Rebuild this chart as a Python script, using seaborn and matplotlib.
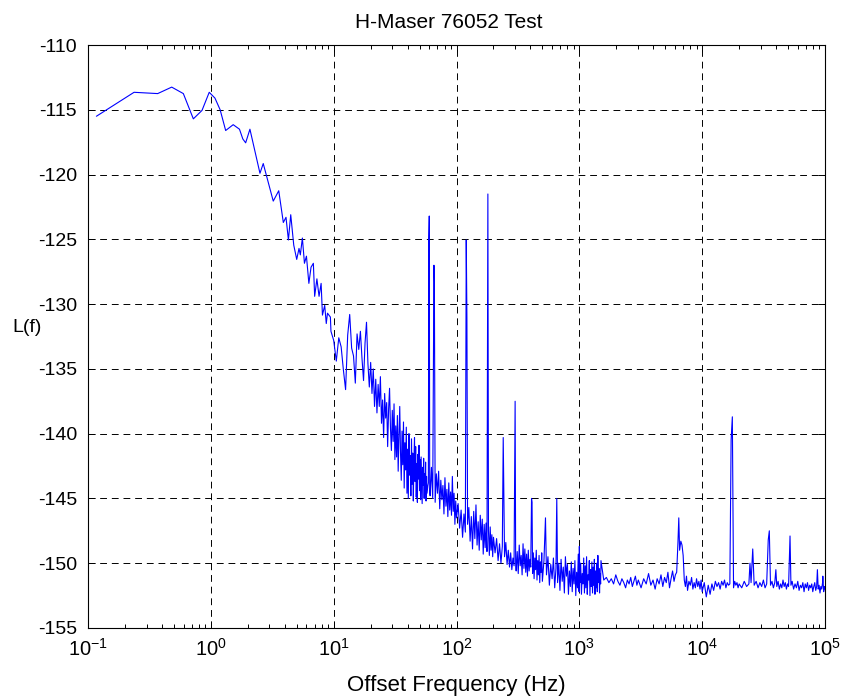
import numpy as np
import matplotlib
matplotlib.use('Agg')
import matplotlib.pyplot as plt
from matplotlib.ticker import NullFormatter, LogLocator
import seaborn as sns

# --------------
# data (offset frequency in Hz, L(f) in dBc/Hz)

# sparse low-frequency part, 0.1 - 10 Hz
freq_low = [0.117, 0.237, 0.369, 0.48, 0.597, 0.72, 0.847, 0.97, 1.08, 1.19,
            1.32, 1.52, 1.71, 1.82, 1.92, 2.08, 2.51, 2.67, 3.22, 3.57,
            3.89, 4.09, 4.28, 4.47, 4.73, 5.0, 5.22, 5.35, 5.56, 5.78,
            6.0, 6.28, 6.54, 6.83, 7.0, 7.3, 7.6, 7.9, 8.1, 8.45,
            8.7, 8.9, 9.4, 9.5]
lf_low = [-115.5, -113.65, -113.75, -113.25, -113.75, -115.7, -115.05, -113.65, -114.1, -115.0,
          -116.6, -116.15, -116.5, -117.25, -117.55, -116.5, -119.9, -119.15, -122.05, -121.25,
          -123.7, -123.3, -125.05, -123.1, -125.45, -126.55, -125.7, -126.2, -124.9, -126.85,
          -126.3, -128.4, -127.15, -126.85, -129.4, -128.05, -129.4, -128.4, -130.85, -130.1,
          -131.5, -130.7, -131.0, -132.1]

# 10 - 60 Hz, dense noisy band, 60 Hz line at the end
freq_b = [10.0, 10.5, 11.0, 11.5, 12.0, 12.5, 13.0, 13.5, 14.0, 14.5,
          15.0, 15.5, 16.0, 16.5, 17.0, 17.5, 18.0, 18.5, 19.0, 19.5,
          20.0, 20.5, 21.0, 21.5, 22.0, 22.5, 23.0, 23.5, 24.0, 24.5,
          25.0, 25.5, 26.0, 26.5, 27.0, 27.5, 28.0, 28.5, 29.0, 29.5,
          30.0, 30.5, 31.0, 31.5, 32.0, 32.5, 33.0, 33.5, 34.0, 34.5,
          35.0, 35.5, 36.0, 36.5, 37.0, 37.5, 38.0, 38.5, 39.0, 39.5,
          40.0, 40.5, 41.0, 41.5, 42.0, 42.5, 43.0, 43.5, 44.0, 44.5,
          45.0, 45.5, 46.0, 46.5, 47.0, 47.5, 48.0, 48.5, 49.0, 49.5,
          50.0, 50.5, 51.0, 51.5, 52.0, 52.5, 53.0, 53.5, 54.0, 54.5,
          55.0, 55.5, 56.0, 56.5, 57.0, 57.5, 58.5, 59.0, 59.5, 60.0,
          60.5]
lf_b = [-132.8, -134.4, -132.6, -133.3, -135.1, -136.6, -132.4, -130.8, -133.4, -134.0,
        -136.1, -132.3, -133.5, -132.1, -134.2, -135.9, -133.0, -131.4, -134.6, -136.4,
        -134.5, -136.9, -135.0, -137.9, -135.8, -138.4, -136.2, -137.9, -135.6, -139.2,
        -137.4, -140.3, -136.9, -138.8, -137.6, -141.0, -138.1, -136.5, -139.6, -141.3,
        -138.2, -140.6, -137.7, -142.0, -139.4, -141.8, -138.6, -142.9, -140.1, -137.9,
        -141.5, -143.6, -139.8, -142.4, -139.1, -144.2, -140.7, -142.8, -139.5, -144.6,
        -141.2, -145.0, -140.0, -143.2, -141.7, -144.8, -140.4, -143.9, -141.5, -145.2,
        -142.1, -140.3, -143.7, -141.0, -144.9, -142.3, -145.3, -141.6, -143.5, -140.9,
        -144.4, -142.0, -145.1, -141.8, -143.8, -145.4, -142.6, -144.0, -141.9, -145.0,
        -143.1, -144.7, -142.2, -145.2, -143.3, -144.6, -144.0, -143.8, -125.0, -123.2,
        -144.5]

# 60 - 200 Hz, mains harmonics at 66, 120 and 180 Hz
freq_c = [61, 62.5, 64, 65.5, 66, 67, 68.5, 70, 71.5, 73,
          74.5, 76, 77.5, 79, 80.5, 82, 83.5, 85, 86.5, 88,
          89.5, 91, 92.5, 94, 95.5, 97, 98.5, 100, 103, 106,
          109, 112, 115, 118, 120, 121.5, 123, 126, 129, 132,
          135, 138, 141, 144, 147, 150, 153, 156, 159, 162,
          165, 168, 171, 174, 177, 180, 182, 185, 188, 191,
          194, 197, 200]
lf_c = [-144.8, -142.6, -145.0, -127.0, -128.3, -145.3, -143.1, -144.6, -142.9, -145.8,
        -143.6, -145.1, -144.0, -146.2, -143.4, -145.6, -144.3, -146.4, -143.8, -145.9,
        -144.5, -146.3, -143.3, -146.0, -144.6, -147.0, -145.2, -146.5, -145.4, -147.3,
        -145.9, -148.0, -146.2, -147.6, -125.05, -131.0, -147.0, -145.7, -148.3, -146.4,
        -148.9, -146.0, -148.1, -145.5, -148.6, -146.8, -149.0, -146.3, -148.2, -146.6,
        -149.3, -147.0, -148.8, -146.9, -149.1, -121.5, -147.5, -149.4, -147.2, -149.0,
        -147.8, -149.5, -148.0]

# 200 - 500 Hz
freq_d = [206, 212, 218, 224, 230, 236, 240, 246, 252, 258,
          264, 270, 276, 282, 288, 294, 300, 303, 306, 312,
          318, 324, 330, 336, 342, 348, 354, 360, 366, 372,
          378, 384, 390, 396, 402, 408, 412, 416, 422, 428,
          434, 440, 446, 452, 458, 464, 470, 476, 482, 488,
          494, 500]
lf_d = [-149.2, -148.1, -149.8, -148.5, -150.0, -148.7, -140.3, -149.5, -148.4, -150.1,
        -149.0, -150.3, -149.2, -150.5, -149.6, -150.2, -137.5, -150.0, -150.6, -149.1,
        -150.8, -148.6, -150.2, -149.4, -150.9, -148.5, -150.4, -148.9, -150.7, -149.3,
        -151.0, -149.0, -150.6, -149.7, -150.3, -145.0, -145.3, -150.8, -149.2, -151.2,
        -149.6, -150.5, -149.0, -151.3, -149.8, -150.9, -149.4, -151.5, -149.9, -150.7,
        -149.2, -151.4]

# 500 - 1500 Hz
freq_e = [515, 530, 540, 555, 570, 585, 600, 615, 630, 645,
          655, 665, 680, 695, 710, 725, 740, 755, 770, 785,
          800, 815, 830, 845, 860, 875, 890, 905, 920, 935,
          950, 965, 980, 995, 1000, 1010, 1025, 1040, 1055, 1070,
          1085, 1100, 1115, 1130, 1145, 1160, 1175, 1190, 1205, 1220,
          1235, 1250, 1265, 1280, 1295, 1310, 1325, 1340, 1355, 1370,
          1385, 1400, 1415, 1430, 1445, 1460, 1475, 1490, 1500]
lf_e = [-149.8, -146.5, -150.9, -149.5, -151.7, -150.1, -151.2, -149.6, -151.9, -150.4,
        -145.0, -151.5, -150.0, -152.1, -149.7, -151.4, -150.3, -152.3, -149.5, -151.0,
        -150.1, -152.4, -150.6, -151.8, -149.9, -152.2, -150.4, -151.6, -149.8, -152.5,
        -150.7, -151.9, -149.3, -152.2, -148.7, -151.5, -150.0, -152.4, -150.8, -151.6,
        -149.6, -152.3, -150.2, -151.9, -149.5, -152.4, -150.9, -151.3, -149.8, -152.5,
        -150.5, -151.8, -149.9, -152.3, -150.3, -151.7, -149.7, -152.4, -150.6, -151.9,
        -150.0, -152.2, -149.4, -151.5, -150.4, -152.3, -150.8, -151.6, -149.8]

# 1.5 kHz - 100 kHz, flat floor with a few spurs
freq_f = [1580, 1660, 1740, 1820, 1900, 1980, 2060, 2140, 2220, 2300,
          2380, 2460, 2540, 2620, 2700, 2780, 2860, 2940, 3020, 3180,
          3340, 3500, 3660, 3820, 3980, 4140, 4300, 4460, 4620, 4780,
          4940, 5100, 5260, 5420, 5580, 5740, 5900, 6050, 6200, 6350,
          6450, 6550, 6700, 6850, 7000, 7150, 7300, 7450, 7600, 7800,
          8000, 8200, 8400, 8600, 8800, 9000, 9200, 9400, 9600, 9800,
          10000, 10400, 10800, 11200, 11600, 12000, 12400, 12800, 13200, 13600,
          14000, 14400, 14800, 15200, 15600, 16000, 16400, 16800, 17200, 17600,
          18000, 18400, 18800, 19200, 19600, 20000, 21000, 22000, 23000, 24000,
          24500, 25000, 25800, 26500, 27500, 28500, 29500, 30500, 31500, 32500,
          33500, 34500, 35200, 36000, 37000, 38000, 39000, 39800, 40500, 41500,
          42500, 43500, 44500, 45500, 46500, 47500, 48500, 49500, 50500, 51900,
          52800, 54000, 55500, 57000, 58500, 60000, 61500, 63000, 64500, 66000,
          67500, 69000, 70500, 72000, 73500, 75000, 76500, 78000, 79500, 81000,
          82500, 84000, 85500, 86700, 88000, 89500, 91000, 92500, 94000, 95500,
          96000, 97500, 99000, 100000]
lf_f = [-151.3, -151.1, -151.5, -151.2, -151.6, -150.9, -151.4, -151.7, -151.2, -151.5,
        -151.9, -151.3, -151.6, -151.1, -151.8, -151.4, -151.0, -151.7, -151.3, -151.9,
        -151.2, -151.6, -150.8, -151.7, -151.3, -152.0, -151.2, -151.6, -150.9, -151.8,
        -151.1, -151.5, -150.7, -151.9, -151.2, -150.6, -151.4, -150.9, -150.7, -148.4,
        -146.5, -149.0, -148.3, -148.6, -149.4, -151.3, -151.8, -151.0, -152.1, -151.4,
        -151.7, -151.1, -152.0, -151.5, -151.9, -151.2, -151.8, -151.4, -152.0, -151.3,
        -152.2, -151.5, -152.6, -151.7, -152.4, -151.6, -152.1, -151.4, -151.8, -151.5,
        -152.0, -151.4, -151.7, -151.3, -151.9, -151.5, -151.7, -151.6, -140.5, -138.7,
        -151.9, -151.4, -151.7, -151.5, -151.9, -151.6, -151.9, -151.4, -151.8, -151.6,
        -150.0, -151.5, -148.9, -151.7, -151.4, -151.9, -151.5, -151.8, -151.3, -151.9,
        -151.6, -148.2, -147.5, -151.7, -151.4, -151.9, -151.5, -150.5, -151.8, -151.4,
        -152.0, -151.6, -151.9, -151.3, -151.8, -151.5, -152.0, -151.6, -151.8, -147.9,
        -151.7, -151.4, -152.0, -151.6, -151.9, -151.4, -152.1, -151.7, -151.9, -151.5,
        -152.2, -151.6, -151.9, -151.5, -152.1, -151.7, -151.9, -151.6, -152.2, -151.8,
        -151.5, -152.1, -151.8, -150.5, -152.0, -151.7, -152.3, -151.8, -152.0, -151.5,
        -151.0, -152.2, -151.8, -152.0]

x_ticks = [1e-1, 1e0, 1e1, 1e2, 1e3, 1e4, 1e5]
y_ticks = [-155, -150, -145, -140, -135, -130, -125, -120, -115, -110]

# --------------
# Code starts here

freq = np.concatenate([freq_low, freq_b, freq_c, freq_d, freq_e, freq_f])
lf = np.concatenate([lf_low, lf_b, lf_c, lf_d, lf_e, lf_f])

sns.set_style('ticks')
plt.rcParams['font.family'] = ['Liberation Sans', 'DejaVu Sans']
plt.rcParams['axes.unicode_minus'] = False
plt.rcParams['text.color'] = 'black'
plt.rcParams['axes.labelcolor'] = 'black'
plt.rcParams['mathtext.fontset'] = 'custom'
plt.rcParams['mathtext.rm'] = 'Liberation Sans'
plt.rcParams['mathtext.it'] = 'Liberation Sans:italic'
plt.rcParams['mathtext.bf'] = 'Liberation Sans:bold'

fig = plt.figure(figsize=(8.44, 7.0), dpi=100)
ax = fig.add_axes([0.1043, 0.1029, 0.8732, 0.8328])

sns.lineplot(x=freq, y=lf, color='blue', linewidth=0.8, estimator=None,
             sort=False, legend=False, ax=ax)

ax.set_xscale('log')
ax.set_xticks(x_ticks)
ax.xaxis.set_minor_locator(LogLocator(base=10, subs=np.arange(2, 10), numticks=20))
ax.xaxis.set_minor_formatter(NullFormatter())
ax.set_xlim(0.1, 1e5)
ax.set_ylim(-155, -110)
ax.set_yticks(y_ticks)

# matlab style dashed grid and inward ticks on every side
ax.grid(True, which='major', color='black', linestyle=(0, (7, 5)), linewidth=0.7)
ax.tick_params(which='both', direction='in', top=True, right=True,
               colors='black', labelcolor='black')
ax.tick_params(which='major', length=5, width=0.7)
ax.tick_params(which='minor', length=3, width=0.7)
ax.tick_params(axis='x', labelsize=14.5, pad=7)
ax.tick_params(axis='y', labelsize=14, pad=8)
for s in ax.spines.values():
    s.set_color('black')
    s.set_linewidth(0.8)

ax.set_title('H-Maser 76052 Test', fontsize=15, pad=12, x=0.49, color='black')
ax.set_xlabel('Offset Frequency (Hz)', fontsize=16, labelpad=11)
ax.set_ylabel('L(f)', fontsize=14, rotation=0, ha='left', va='center')
ax.yaxis.set_label_coords(-0.103, 0.516)

plt.savefig('out.png', dpi=100)
# Code ends here
